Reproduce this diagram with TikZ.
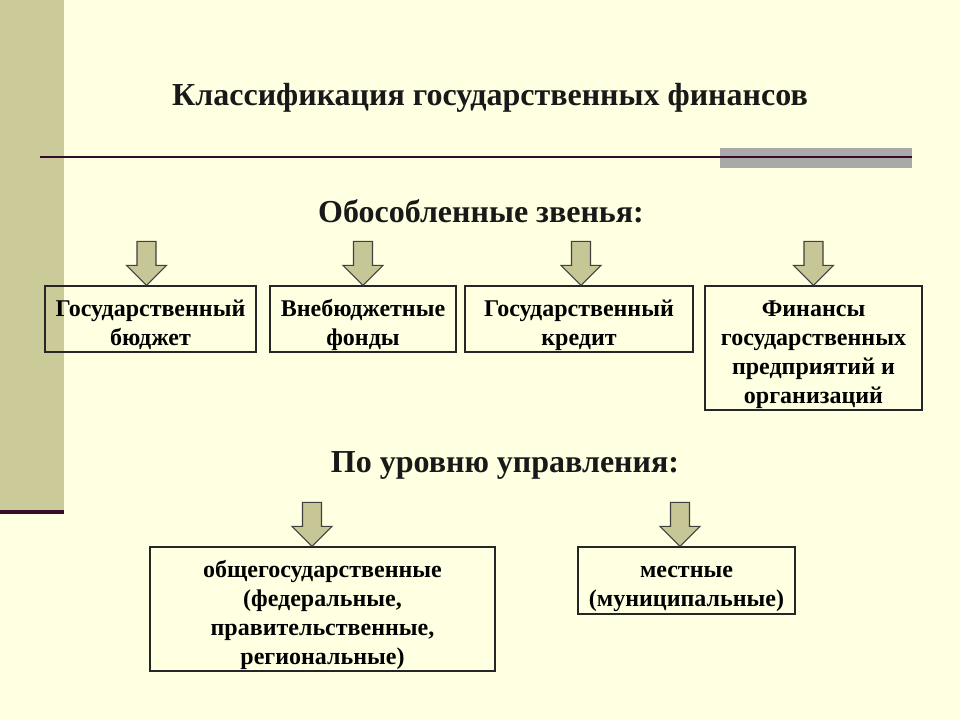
\documentclass[tikz,border=0pt]{standalone}
\usepackage{fontspec}
\setmainfont{Liberation Serif}
\usetikzlibrary{positioning,calc}

\definecolor{cream}{HTML}{FFFFE1}
\definecolor{olive}{HTML}{CBCB9A}
\definecolor{arrowfill}{HTML}{C6C696}
\definecolor{maroon}{HTML}{3A0A2C}
\definecolor{framegray}{HTML}{A9A9A9}
\newcommand{\tstrut}{\rule{0pt}{21.5pt}}

\begin{document}
\begin{tikzpicture}[x=0.75pt, y=-0.75pt,
    box/.style = {draw = black!85, line width = 0.9pt,
        align = center, inner sep = 0pt,
        font = \fontsize{18}{21.75}\selectfont\bfseries},
    heading/.style = {font = \fontsize{24}{28.8}\selectfont\bfseries, text = black!90},
    downarrow/.pic = {
        \draw[fill = arrowfill, draw = black!75, line width = 0.8pt]
            (-9.5,-44) -- (9.5,-44) -- (9.5,-20) -- (20,-20) -- (0,0)
            -- (-20,-20) -- (-9.5,-20) -- cycle;
    }]

        \useasboundingbox (0,0) rectangle (960,720);
        %background
        \fill[cream] (0,0) rectangle (960,720);
        \fill[olive] (0,0) rectangle (64,512);
        \draw[maroon, line width = 3pt] (0,512) -- (64,512);

        %title
        \node[font = \fontsize{24}{28.8}\selectfont\bfseries, text = black!90] (T) at (490,98)
            {Классификация государственных финансов};
        \fill[framegray] (720,148) rectangle (912,168);
        \draw[maroon, line width = 1.6pt] (40,157) -- (912,157);

        %first group
        \node[heading] (H1) at (481,211) {Обособленные звенья:};

        \node[box, minimum width = 211*0.75pt, minimum height = 66*0.75pt] (gb) at (150.5,319)
            {\tstrut Государственный\\бюджет};
        \node[box, minimum width = 186*0.75pt, minimum height = 66*0.75pt] (vf) at (363,319)
            {\tstrut Внебюджетные\\фонды};
        \node[box, minimum width = 228*0.75pt, minimum height = 66*0.75pt] (gk) at (579,319)
            {\tstrut Государственный\\кредит};
        \node[box, minimum width = 217*0.75pt, minimum height = 124*0.75pt] (fp) at (813.5,348)
            {\tstrut Финансы\\государственных\\предприятий и\\организаций};

        \pic at ($(gb.north)+(-4,0)$) {downarrow};
        \pic at (vf.north) {downarrow};
        \pic at ($(gk.north)+(2,0)$) {downarrow};
        \pic at (fp.north) {downarrow};

        %second group
        \node[heading] (H2) at (505,465) {По уровню управления:};

        \node[box, minimum width = 345*0.75pt, minimum height = 124*0.75pt] (og) at (322.5,609)
            {\tstrut общегосударственные\\(федеральные,\\правительственные,\\региональные)};
        \node[box, minimum width = 217*0.75pt, minimum height = 67*0.75pt] (mu) at (686.5,580.5)
            {\tstrut местные\\(муниципальные)};

        \pic at ($(og.north)+(-10.5,0)$) {downarrow};
        \pic at ($(mu.north)+(-6.5,0)$) {downarrow};

\end{tikzpicture}
\end{document}
